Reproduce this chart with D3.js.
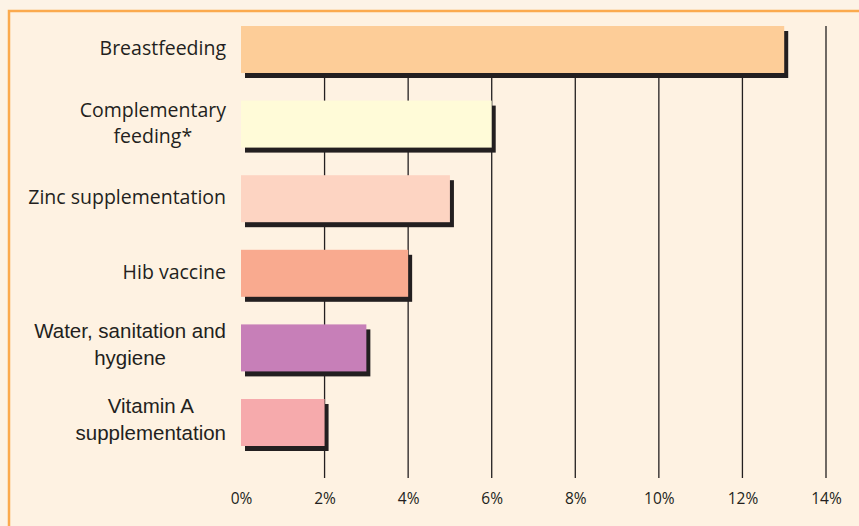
<!DOCTYPE html>
<html>
<head>
<meta charset="utf-8">
<script src="https://cdn.jsdelivr.net/npm/d3@7"></script>
<style>
  html, body { margin: 0; padding: 0; background: #fdf3e6; }
  svg { display: block; }
</style>
</head>
<body>
<svg width="859" height="526"></svg>
<script>
// intervention labels (lines) and their share, in percent
var categories = [
  ["Breastfeeding"],
  ["Complementary", "feeding*"],
  ["Zinc supplementation"],
  ["Hib vaccine"],
  ["Water, sanitation and", "hygiene"],
  ["Vitamin A", "supplementation"]
];
var values = [13, 6, 5, 4, 3, 2];
var colors = ["#fdcd98", "#fffbd8", "#fdd4c2", "#f9aa8f", "#c77fb8", "#f6aaac"];
var ticks = [0, 2, 4, 6, 8, 10, 12, 14];

var svg = d3.select("svg");
var FONT = "'Open Sans', sans-serif";
var FONT2 = "'Liberation Sans', Arial, sans-serif"; // last two labels were set in another face
var INK = "#231f20";

// the orange panel
svg.append("rect")
  .attr("x", 9).attr("y", 11)
  .attr("width", 870).attr("height", 540)
  .attr("fill", "#fef2e2")
  .attr("stroke", "#fbaa4e")
  .attr("stroke-width", 2.5);

var x = d3.scaleLinear().domain([0, 14]).range([241, 826]);
var y = d3.scaleBand().domain(d3.range(values.length)).range([26, 446]).paddingInner(0.37).paddingOuter(0);

// gridlines
svg.append("g").selectAll("line").data(ticks.slice(1)).join("line")
  .attr("x1", d => x(d)).attr("x2", d => x(d))
  .attr("y1", 26).attr("y2", 478)
  .attr("stroke", INK).attr("stroke-width", 1.3);

// tick labels
var xAxis = svg.append("g").attr("transform", "translate(0,478)")
  .call(d3.axisBottom(x).tickValues(ticks).tickFormat(d => d + "%").tickSize(0).tickPadding(15));
xAxis.select(".domain").remove();
xAxis.selectAll("text").attr("font-family", FONT).attr("font-size", 15.5).attr("fill", INK);

// shadows, then bars
var SH = 4;
svg.append("g").selectAll("rect").data(values).join("rect")
  .attr("x", x(0) + SH).attr("y", (d, i) => y(i) + SH + 1)
  .attr("width", d => x(d) - x(0)).attr("height", y.bandwidth())
  .attr("fill", INK);

svg.append("g").selectAll("rect").data(values).join("rect")
  .attr("x", x(0)).attr("y", (d, i) => y(i))
  .attr("width", d => x(d) - x(0)).attr("height", y.bandwidth())
  .attr("fill", (d, i) => colors[i]);

// category labels: lines centred within a block that is right-aligned
var RIGHT = 226;
categories.forEach(function (lines, i) {
  var alt = i >= 4;
  var LH = alt ? 27 : 26;
  var cy = y(i) + y.bandwidth() / 2;
  var t = svg.append("text")
    .attr("font-family", alt ? FONT2 : FONT)
    .attr("font-size", alt ? 20.5 : 19.5)
    .attr("fill", INK)
    .attr("text-anchor", "middle");
  lines.forEach(function (s, k) {
    t.append("tspan").attr("x", 0)
      .attr("y", cy + (alt ? 4 : 5.5) + (k - (lines.length - 1) / 2) * LH)
      .text(s);
  });
  var w = d3.max(t.selectAll("tspan").nodes(), n => n.getComputedTextLength());
  t.attr("transform", "translate(" + (RIGHT - w / 2) + ",0)");
});
</script>
</body>
</html>
